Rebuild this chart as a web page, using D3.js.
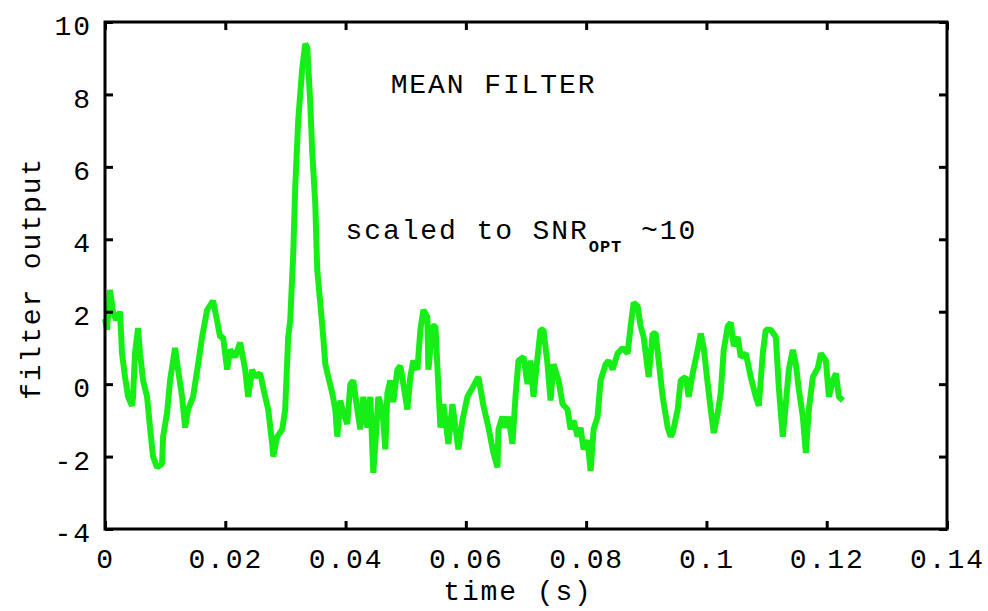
<!DOCTYPE html>
<html>
<head>
<meta charset="utf-8">
<script src="https://cdn.jsdelivr.net/npm/d3@7"></script>
<style>
  body { margin: 0; background: #fff; }
  text { font-family: "Liberation Mono", "DejaVu Sans Mono", monospace; fill: #000; }
</style>
</head>
<body>
<div class="chart"></div>
<script>
// chart values
var timeS = [0, 0.00033, 0.00083, 0.00133, 0.00183, 0.0025, 0.00283, 0.00333, 0.00383, 0.00449, 0.00466,
  0.00499, 0.00549, 0.00583, 0.00633, 0.00699, 0.00749, 0.00799, 0.00866, 0.00949, 0.00966,
  0.01032, 0.01082, 0.01165, 0.01215, 0.01282, 0.01332, 0.01382, 0.01465, 0.01548, 0.01615,
  0.01698, 0.01798, 0.01864, 0.01914, 0.01964, 0.02031, 0.02081, 0.02164, 0.02247, 0.02331,
  0.02381, 0.02447, 0.02497, 0.0258, 0.02664, 0.02714, 0.0278, 0.02797, 0.02863, 0.02947,
  0.02996, 0.03046, 0.0308, 0.0313, 0.03163, 0.03213, 0.03279, 0.03329, 0.03363, 0.03413,
  0.03446, 0.03496, 0.03529, 0.03579, 0.03629, 0.03663, 0.03713, 0.03779, 0.03829, 0.03862,
  0.03912, 0.03962, 0.04029, 0.04079, 0.04128, 0.04195, 0.04245, 0.04295, 0.04362, 0.04411,
  0.04461, 0.04495, 0.04545, 0.04611, 0.04661, 0.04695, 0.04744, 0.04794, 0.04861, 0.04911,
  0.04961, 0.05027, 0.05077, 0.05127, 0.05194, 0.05244, 0.05294, 0.0536, 0.05377, 0.05444,
  0.05494, 0.05544, 0.05577, 0.05627, 0.0571, 0.05777, 0.05827, 0.05876, 0.05943, 0.06026,
  0.0611, 0.06209, 0.06293, 0.06376, 0.06459, 0.06526, 0.06542, 0.06609, 0.06659, 0.06709,
  0.06775, 0.06825, 0.06875, 0.06959, 0.07025, 0.07075, 0.07125, 0.07192, 0.07242, 0.07291,
  0.07358, 0.07408, 0.07458, 0.07541, 0.07608, 0.07691, 0.07741, 0.07791, 0.07858, 0.07907,
  0.07957, 0.08024, 0.08074, 0.08124, 0.0819, 0.0824, 0.08324, 0.08374, 0.0844, 0.08523,
  0.08607, 0.0869, 0.0874, 0.0879, 0.08856, 0.08906, 0.08956, 0.0904, 0.09106, 0.09156,
  0.09206, 0.09272, 0.09356, 0.09406, 0.09439, 0.09522, 0.09572, 0.09655, 0.09705, 0.09772,
  0.09855, 0.09905, 0.09955, 0.10022, 0.10072, 0.10122, 0.10188, 0.10238, 0.10288, 0.10355,
  0.10405, 0.10455, 0.10521, 0.10571, 0.10654, 0.10737, 0.10821, 0.10871, 0.10937, 0.10987,
  0.1107, 0.11154, 0.11204, 0.1127, 0.1132, 0.1137, 0.11437, 0.11487, 0.11537, 0.11603,
  0.11653, 0.11703, 0.1177, 0.11853, 0.11903, 0.11986, 0.12036, 0.12103, 0.12153, 0.12202,
  0.12269];
var filterOut = [1.8, 1.5, 2.6, 2.0, 1.77, 2.0, 0.85, 0.2, -0.35, -0.6, -0.35,
  0.85, 1.55, 0.85, 0.1, -0.35, -1.2, -2.0, -2.3, -2.2, -1.45,
  -0.8, 0.1, 1.0, 0.4, -0.35, -1.2, -0.7, -0.35, 0.55, 1.3,
  2.05, 2.3, 1.75, 1.3, 1.3, 0.4, 0.95, 0.75, 1.15, 0.4,
  -0.35, 0.4, 0.2, 0.3, -0.35, -0.7, -1.65, -2.0, -1.45, -1.25,
  -0.7, 1.3, 1.77, 3.6, 5.45, 7.3, 8.7, 9.4, 9.3, 7.75,
  6.4, 5.0, 3.15, 2.25, 1.3, 0.55, 0.2, -0.25, -0.7, -1.45,
  -0.45, -0.8, -1.1, 0.0, 0.1, -0.7, -1.25, -0.35, -1.2, -0.35,
  -2.45, -1.65, -0.35, -0.7, -1.8, -0.25, 0.1, -0.5, 0.4, 0.5,
  0.0, -0.7, 0.2, 0.65, 0.4, 1.5, 2.05, 1.85, 0.4, 1.6,
  1.6, -0.1, -1.2, -0.55, -1.65, -0.55, -1.2, -1.8, -1.0, -0.35,
  -0.1, 0.2, -0.6, -1.2, -1.9, -2.3, -1.25, -0.9, -1.2, -0.9,
  -1.65, -0.35, 0.65, 0.75, 0.0, 0.65, -0.35, 0.75, 1.5, 1.5,
  0.55, -0.45, 0.55, 0.1, -0.55, -0.7, -1.25, -1.0, -1.45, -1.2,
  -1.8, -1.55, -2.4, -1.25, -0.9, 0.1, 0.55, 0.65, 0.4, 0.85,
  1.0, 0.85, 1.6, 2.25, 2.15, 1.6, 1.3, 0.2, 1.4, 1.4,
  0.65, -0.35, -1.2, -1.45, -1.35, -0.7, 0.1, 0.2, -0.35, 0.3,
  0.95, 1.4, 1.0, 0.0, -0.7, -1.35, -0.8, -0.25, 0.95, 1.6,
  1.7, 1.05, 1.3, 0.75, 0.85, 0.2, -0.35, -0.6, 0.85, 1.5,
  1.5, 1.3, -0.1, -1.45, -0.55, 0.4, 0.95, 0.55, -0.15, -0.9,
  -1.9, -0.7, 0.2, 0.45, 0.85, 0.65, -0.35, 0.1, 0.3, -0.35,
  -0.45];

var xTicks = [0, 0.02, 0.04, 0.06, 0.08, 0.1, 0.12, 0.14];
var xTickLabels = ["0", "0.02", "0.04", "0.06", "0.08", "0.1", "0.12", "0.14"];
var yTicks = [-4, -2, 0, 2, 4, 6, 8, 10];
var yTickLabels = ["-4", "-2", "0", "2", "4", "6", "8", "10"];

var svgWidth = 988;
var svgHeight = 611;
var margin = {top: 22, right: 41, bottom: 82, left: 105};
var chartWidth = svgWidth - margin.left - margin.right;
var chartHeight = svgHeight - margin.top - margin.bottom;

var svg = d3.select(".chart")
  .append("svg")
  .attr("width", svgWidth)
  .attr("height", svgHeight);

svg.append("rect").attr("width", svgWidth).attr("height", svgHeight).attr("fill", "#fff");

var chart = svg.append("g")
  .attr("transform", "translate(" + margin.left + "," + margin.top + ")");

var xScale = d3.scaleLinear().domain([0, 0.14]).range([0, chartWidth]);
var yScale = d3.scaleLinear().domain([-4, 10]).range([chartHeight, 0]);

var data = timeS.map(function(t, i) { return {t: t, v: filterOut[i]}; });

// the trace
var line = d3.line()
  .x(function(d) { return xScale(d.t); })
  .y(function(d) { return yScale(d.v); });

chart.append("path")
  .datum(data)
  .attr("fill", "none")
  .attr("stroke", "#17ee17")
  .attr("stroke-width", 6)
  .attr("stroke-linejoin", "bevel")
  .attr("d", line);

// axes, ticks pointing inward on all four sides
var labelFmtX = function(d) { return xTickLabels[xTicks.indexOf(d)]; };
var labelFmtY = function(d) { return yTickLabels[yTicks.indexOf(d)]; };

var bottomAxis = d3.axisBottom(xScale).tickValues(xTicks).tickFormat(labelFmtX)
  .tickSizeInner(-8).tickSizeOuter(0).tickPadding(19);
var leftAxis = d3.axisLeft(yScale).tickValues(yTicks).tickFormat(labelFmtY)
  .tickSizeInner(-8).tickSizeOuter(0).tickPadding(13);
var topAxis = d3.axisTop(xScale).tickValues(xTicks).tickFormat("")
  .tickSizeInner(-8).tickSizeOuter(0);
var rightAxis = d3.axisRight(yScale).tickValues(yTicks).tickFormat("")
  .tickSizeInner(-8).tickSizeOuter(0);

var gx = chart.append("g").attr("transform", "translate(0," + chartHeight + ")").call(bottomAxis);
var gy = chart.append("g").call(leftAxis);
var gt = chart.append("g").call(topAxis);
var gr = chart.append("g").attr("transform", "translate(" + chartWidth + ",0)").call(rightAxis);

[gx, gy, gt, gr].forEach(function(g) {
  g.select(".domain").remove();
  g.selectAll(".tick line").attr("stroke", "#000").attr("stroke-width", 3);
  g.selectAll(".tick text")
    .style("font-family", "'Liberation Mono', monospace")
    .style("font-size", "28px")
    .style("letter-spacing", "1.9px")
    .attr("fill", "#000");
});
gy.selectAll(".tick text").attr("dy", "0.45em");

chart.append("rect")
  .attr("width", chartWidth)
  .attr("height", chartHeight)
  .attr("fill", "none")
  .attr("stroke", "#000")
  .attr("stroke-width", 3);

// axis titles
var titleStyle = function(sel) {
  sel.style("font-size", "28px").style("letter-spacing", "1.9px");
};

svg.append("text")
  .attr("x", 518)
  .attr("y", 600)
  .attr("text-anchor", "middle")
  .call(titleStyle)
  .text("time (s)");

svg.append("text")
  .attr("transform", "translate(40," + (margin.top + chartHeight / 2 + 3) + ") rotate(-90)")
  .attr("text-anchor", "middle")
  .call(titleStyle)
  .text("filter output");

// annotations
chart.append("text")
  .attr("x", xScale(0.0475))
  .attr("y", yScale(8.04))
  .call(titleStyle)
  .text("MEAN FILTER");

var note = chart.append("text")
  .attr("x", xScale(0.04))
  .attr("y", yScale(4.0))
  .call(titleStyle);
note.append("tspan").text("scaled to SNR");
note.append("tspan")
  .attr("dy", 13)
  .style("font-size", "17px")
  .style("font-weight", "bold")
  .style("letter-spacing", "1px")
  .text("OPT");
note.append("tspan")
  .attr("dy", -13)
  .text(" ~10");
</script>
</body>
</html>
